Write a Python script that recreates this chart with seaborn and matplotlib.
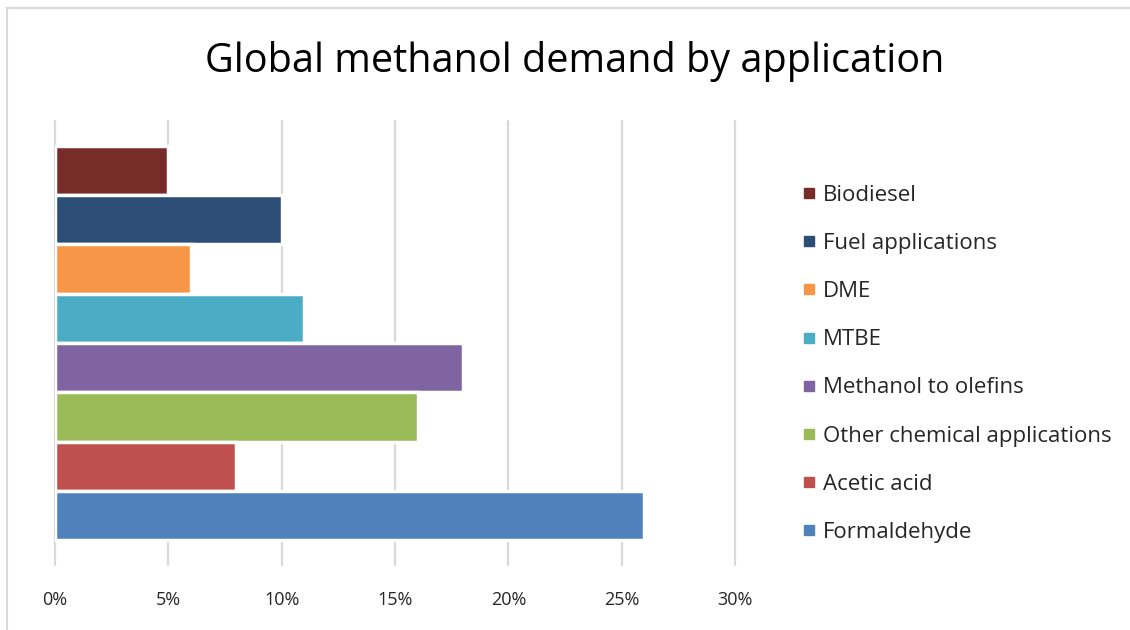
import matplotlib
matplotlib.use("Agg")
import matplotlib.pyplot as plt
import seaborn as sns
import pandas as pd
from matplotlib.lines import Line2D
from matplotlib.ticker import PercentFormatter

categories = ["Biodiesel", "Fuel applications", "DME", "MTBE",
              "Methanol to olefins", "Other chemical applications",
              "Acetic acid", "Formaldehyde"]
shares = [0.05, 0.10, 0.06, 0.11, 0.18, 0.16, 0.08, 0.26]
colors = ["#772C2A", "#2C4D75", "#F79646", "#4BACC6",
          "#8064A2", "#9BBB59", "#C0504D", "#4F81BD"]
x_ticks = [0.00, 0.05, 0.10, 0.15, 0.20, 0.25, 0.30]

df = pd.DataFrame({"application": categories, "share": shares})

sns.set_theme(style="white")
plt.rcParams["font.family"] = ["Open Sans", "DejaVu Sans"]

W, H = 1130, 630
fig = plt.figure(figsize=(W / 100, H / 100), dpi=100)
ax = fig.add_axes([55 / W, (H - 565) / H, 680 / W, 444 / H])

sns.barplot(data=df, x="share", y="application", hue="application",
            palette=colors, order=categories, hue_order=categories,
            dodge=False, legend=False, width=1.0, ax=ax,
            edgecolor="white", linewidth=2.5, saturation=1, zorder=3)

ax.set_xlim(0, 0.30)
ax.set_ylim(8.0, -1.0)
ax.set_xticks(x_ticks)
ax.xaxis.set_major_formatter(PercentFormatter(1.0, decimals=0))
ax.grid(axis="x", color="#d9d9d9", linewidth=1.6, zorder=0)
ax.grid(axis="y", visible=False)
for gl in ax.get_xgridlines():
    gl.set_clip_on(False)
ax.set_yticks([])
ax.set_xlabel("")
ax.set_ylabel("")
for s in ax.spines.values():
    s.set_visible(False)
ax.tick_params(axis="x", length=0, pad=19, labelsize=13, labelcolor="#262626")

fig.text(575 / W, 1 - 62 / H, "Global methanol demand by application",
         ha="center", va="center", fontsize=28.5, color="#000000")

handles = [Line2D([0], [0], marker="s", linestyle="none", markersize=7.2,
                  markerfacecolor=c, markeredgecolor=c) for c in colors]
leg = fig.legend(handles, categories, loc="upper left",
                 bbox_to_anchor=(801 / W, 1 - 185 / H), frameon=False,
                 fontsize=16, labelspacing=1.22, handlelength=0.7,
                 handletextpad=0.3, borderaxespad=0, borderpad=0)
for t in leg.get_texts():
    t.set_color("#262626")

# chart frame
fig.add_artist(Line2D([7 / W, 7 / W], [0, 1 - 8 / H], transform=fig.transFigure,
                      color="#d9d9d9", linewidth=1.5))
fig.add_artist(Line2D([7 / W, 1], [1 - 8 / H, 1 - 8 / H], transform=fig.transFigure,
                      color="#d9d9d9", linewidth=1.5))

fig.savefig("out.png", dpi=100, facecolor="white")
